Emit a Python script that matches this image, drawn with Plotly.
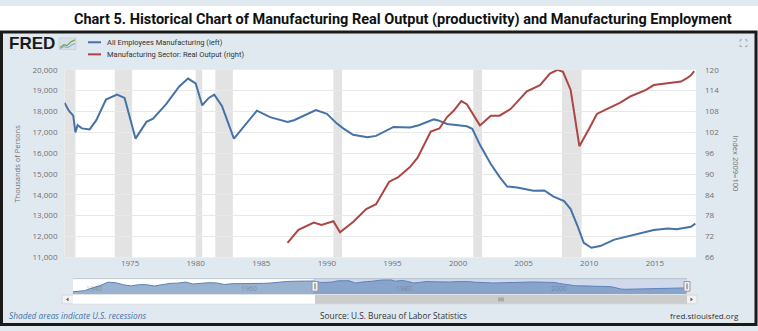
import plotly.graph_objects as go

W, H = 758, 331

# ---------------- data ----------------
emp_dates = ["1970-01", "1970-05", "1970-09", "1970-11", "1971-01", "1971-05", "1971-12", "1972-06",
             "1973-03", "1974-01", "1974-08", "1975-01", "1975-06", "1976-04", "1976-10", "1977-10",
             "1978-10", "1979-06", "1980-01", "1980-07", "1981-01", "1981-06", "1982-01", "1982-12",
             "1983-08", "1984-09", "1985-09", "1987-01", "1987-07", "1988-07", "1989-03", "1990-01",
             "1990-10", "1991-04", "1992-01", "1993-02", "1993-10", "1995-02", "1996-05", "1997-01",
             "1998-03", "1998-07", "1999-03", "2000-09", "2001-02", "2001-09", "2002-07", "2003-03",
             "2003-10", "2004-07", "2005-10", "2006-08", "2007-04", "2008-02", "2008-08", "2009-02",
             "2009-08", "2010-03", "2010-11", "2011-12", "2012-12", "2013-12", "2014-12", "2016-01",
             "2016-09", "2017-10", "2018-02"]
emp_vals = [18420, 18040, 17800, 17000, 17340, 17190, 17140, 17570,
            18575, 18810, 18650, 17650, 16700, 17500, 17650, 18350,
            19200, 19580, 19350, 18300, 18650, 18810, 18270, 16700,
            17190, 18040, 17730, 17500, 17580, 17890, 18070, 17890,
            17430, 17190, 16880, 16770, 16830, 17260, 17230, 17340,
            17620, 17570, 17400, 17290, 17170, 16400, 15480, 14860,
            14400, 14350, 14200, 14210, 13930, 13700, 13320, 12540,
            11700, 11460, 11540, 11850, 12000, 12160, 12310, 12390,
            12350, 12470, 12620]

out_dates = ["1987-01", "1987-11", "1989-01", "1989-08", "1990-07", "1991-01", "1992-01", "1993-01",
             "1993-10", "1994-10", "1995-06", "1996-05", "1996-12", "1997-12", "1998-08", "1999-03",
             "1999-09", "2000-04", "2000-09", "2001-09", "2002-07", "2003-03", "2004-01", "2005-04",
             "2006-04", "2007-01", "2007-08", "2008-01", "2008-08", "2009-04", "2010-01", "2010-08",
             "2011-05", "2012-05", "2013-03", "2014-05", "2014-12", "2016-01", "2017-01", "2017-06",
             "2017-10", "2018-01"]
out_vals = [70.2, 73.9, 76.0, 75.3, 76.4, 73.2, 76.2, 79.9,
            81.3, 87.8, 89.0, 92.0, 94.7, 102.2, 103.1, 106.4,
            108.2, 111.0, 110.1, 104.0, 106.8, 106.8, 108.7, 113.8,
            115.6, 118.9, 120.0, 119.4, 114.2, 98.0, 103.1, 107.3,
            108.7, 110.5, 112.4, 114.2, 115.6, 116.1, 116.6, 117.5,
            118.4, 119.6]

# navigator history (annual, before the main window)
nav_hist_dates = ["1939-01", "1940-07", "1941-07", "1942-07", "1943-07", "1944-07", "1945-07", "1946-07",
                  "1947-07", "1948-07", "1949-07", "1950-07", "1951-07", "1952-07", "1953-07", "1954-07",
                  "1955-07", "1956-07", "1957-07", "1958-07", "1959-07", "1960-07", "1961-07", "1962-07",
                  "1963-07", "1964-07", "1965-07", "1966-07", "1967-07", "1968-07", "1969-07"]
nav_hist_vals = [9300, 10300, 12600, 14600, 17400, 17000, 15200, 14300,
                 15300, 15300, 14200, 15200, 16400, 16600, 17500, 15900,
                 16600, 17000, 16800, 15500, 16100, 16200, 15700, 16300,
                 16400, 16700, 17500, 18000, 18200, 18400, 18650]

rec_start = ["1969-12-01", "1973-11-01", "1980-01-01", "1981-07-01", "1990-07-01", "2001-03-01", "2007-12-01"]
rec_end = ["1970-11-01", "1975-03-01", "1980-07-01", "1982-11-01", "1991-03-01", "2001-11-01", "2009-06-01"]

x_tick_years = [1975, 1980, 1985, 1990, 1995, 2000, 2005, 2010, 2015]
left_ticks = list(range(11000, 20001, 1000))
right_ticks = list(range(66, 121, 6))
nav_label_years = [1940, 1960, 1980, 2000]

series_names = ["All Employees Manufacturing (left)", "Manufacturing Sector: Real Output (right)"]
title_text = "Chart 5. Historical Chart of Manufacturing Real Output (productivity) and Manufacturing Employment"

BLUE = "#4572a7"
RED = "#aa4643"
FRAME_BG = "#e1e9f0"
TICK_C = "#707070"
BASE_FONT = "Open Sans, Liberation Sans, sans-serif"
NARROW = "Roboto, Liberation Sans, sans-serif"


def px(x):
    return x / W


def py(y):
    return 1 - y / H


# plot area in pixels
PL, PR, PT, PB = 64.5, 696, 66, 260
# navigator in pixels
NL, NR, NT, NB = 73, 687, 282, 298

fig = go.Figure()

fig.add_trace(go.Scatter(x=emp_dates, y=emp_vals, mode="lines", name=series_names[0],
                         line=dict(color=BLUE, width=2), xaxis="x", yaxis="y"))
fig.add_trace(go.Scatter(x=out_dates, y=out_vals, mode="lines", name=series_names[1],
                         line=dict(color=RED, width=2), xaxis="x", yaxis="y2"))

nav_x = nav_hist_dates + emp_dates
nav_y = nav_hist_vals + emp_vals
fig.add_trace(go.Scatter(x=nav_x, y=nav_y, mode="lines", fill="tozeroy",
                         fillcolor="rgba(69,114,167,0.55)", line=dict(color="#5a80b5", width=1),
                         xaxis="x3", yaxis="y3", showlegend=False, hoverinfo="skip"))

shapes = []
# white strip behind title
shapes.append(dict(type="rect", xref="paper", yref="paper", x0=0, x1=1, y0=py(26), y1=1,
                   fillcolor="white", line_width=0, layer="below"))
# recession bands
for s, e in zip(rec_start, rec_end):
    shapes.append(dict(type="rect", xref="x", yref="paper", x0=s, x1=e, y0=py(PB), y1=py(PT),
                       fillcolor="#e3e3e3", line_width=0, layer="between"))

# navigator top line
shapes.append(dict(type="line", xref="paper", yref="paper", x0=px(NL), x1=px(NR), y0=py(NT), y1=py(NT),
                   line=dict(color="#c0c8d0", width=1)))
# navigator selected mask
shapes.append(dict(type="rect", xref="x3", yref="paper", x0="1970-01-01", x1="2018-02-20",
                   y0=py(NB), y1=py(NT), fillcolor="rgba(102,133,194,0.3)", line_width=0, layer="above"))
# scrollbar
SB_T, SB_B = 299, 308
shapes.append(dict(type="rect", xref="paper", yref="paper", x0=px(62), x1=px(697), y0=py(SB_B), y1=py(SB_T),
                   fillcolor="#f2f2f2", line=dict(color="#d8d8d8", width=1)))
shapes.append(dict(type="rect", xref="paper", yref="paper", x0=px(NL), x1=px(315), y0=py(SB_B), y1=py(SB_T),
                   fillcolor="#ffffff", line_width=0))
shapes.append(dict(type="rect", xref="paper", yref="paper", x0=px(315), x1=px(NR), y0=py(SB_B), y1=py(SB_T),
                   fillcolor="#cccccc", line_width=0))
# scrollbar buttons arrows
shapes.append(dict(type="path", xref="paper", yref="paper",
                   path=f"M {px(66)} {py(303.5)} L {px(68.5)} {py(301.5)} L {px(68.5)} {py(305.5)} Z",
                   fillcolor="#555", line_width=0))
shapes.append(dict(type="path", xref="paper", yref="paper",
                   path=f"M {px(693)} {py(303.5)} L {px(690.5)} {py(301.5)} L {px(690.5)} {py(305.5)} Z",
                   fillcolor="#555", line_width=0))
# thumb grip
for gx in (499, 501, 503):
    shapes.append(dict(type="line", xref="paper", yref="paper", x0=px(gx), x1=px(gx),
                       y0=py(305.5), y1=py(301.5), line=dict(color="#888", width=1)))
# navigator handles
for hx in (315, NR):
    shapes.append(dict(type="rect", xref="paper", yref="paper", x0=px(hx - 3), x1=px(hx + 3),
                       y0=py(295), y1=py(285), fillcolor="#f2f2f2", line=dict(color="#999", width=1),
                       layer="above"))
    shapes.append(dict(type="line", xref="paper", yref="paper", x0=px(hx), x1=px(hx),
                       y0=py(293), y1=py(287), line=dict(color="#666", width=1), layer="above"))

# legend line samples
for yy, col in ((37.5, BLUE), (50, RED)):
    shapes.append(dict(type="line", xref="paper", yref="paper", x0=px(88), x1=px(101), y0=py(yy), y1=py(yy),
                       line=dict(color=col, width=2)))

# FRED small chart icon
shapes.append(dict(type="rect", xref="paper", yref="paper", x0=px(59), x1=px(76), y0=py(45), y1=py(33),
                   fillcolor="#d7e0e8", line=dict(color="#b8c4cf", width=0.5)))
shapes.append(dict(type="path", xref="paper", yref="paper",
                   path=f"M {px(60)} {py(43)} L {px(64)} {py(40)} L {px(67)} {py(41)} L {px(71)} {py(37)} L {px(75)} {py(35)}",
                   line=dict(color="#6aa84f", width=1.2)))
shapes.append(dict(type="path", xref="paper", yref="paper",
                   path=f"M {px(60)} {py(44)} L {px(64)} {py(42)} L {px(68)} {py(43)} L {px(72)} {py(40)} L {px(75)} {py(39)}",
                   line=dict(color="#7fa3c8", width=1)))

# fullscreen icon (corner marks)
ic = "#a0a8b0"
for (x0, y0, dx, dy) in ((740, 35, 1, 1), (747, 35, -1, 1), (740, 42, 1, -1), (747, 42, -1, -1)):
    shapes.append(dict(type="path", xref="paper", yref="paper",
                       path=f"M {px(x0)} {py(y0 + 2*dy)} L {px(x0)} {py(y0)} L {px(x0 + 2*dx)} {py(y0)}",
                       line=dict(color=ic, width=1)))

# frame border
shapes.append(dict(type="rect", xref="paper", yref="paper", x0=px(1.5), x1=px(756), y0=py(329.5), y1=py(27),
                   fillcolor="rgba(0,0,0,0)", line=dict(color="#1a1a1a", width=3), layer="above"))

annotations = []
annotations.append(dict(text=f"<b>{title_text}</b>", xref="paper", yref="paper", x=px(403), y=py(13.5),
                        xanchor="center", yanchor="middle", showarrow=False,
                        font=dict(family=NARROW, size=14.5, color="#111")))
annotations.append(dict(text="<b>FRED</b>", xref="paper", yref="paper", x=px(7), y=py(38.5),
                        xanchor="left", yanchor="middle", showarrow=False,
                        font=dict(family="Liberation Sans, Arial, sans-serif", size=17, color="#1a1a1a")))
for yy, name in ((37.5, series_names[0]), (50, series_names[1])):
    annotations.append(dict(text=name, xref="paper", yref="paper", x=px(105), y=py(yy),
                            xanchor="left", yanchor="middle", showarrow=False,
                            font=dict(family=NARROW, size=7.5, color="#333")))
annotations.append(dict(text="Thousands of Persons", xref="paper", yref="paper", x=px(17), y=py(163),
                        xanchor="center", yanchor="middle", showarrow=False, textangle=-90,
                        font=dict(family=BASE_FONT, size=7.5, color=TICK_C)))
annotations.append(dict(text="Index 2009=100", xref="paper", yref="paper", x=px(736), y=py(163),
                        xanchor="center", yanchor="middle", showarrow=False, textangle=90,
                        font=dict(family=BASE_FONT, size=7.5, color=TICK_C)))
for yr in nav_label_years:
    annotations.append(dict(text=str(yr), xref="x3", yref="paper", x=f"{yr}-01-01", y=py(292),
                            xanchor="left", yanchor="middle", showarrow=False, xshift=3,
                            font=dict(family=BASE_FONT, size=7, color="rgba(70,70,70,0.35)")))
annotations.append(dict(text="<i>Shaded areas indicate U.S. recessions</i>", xref="paper", yref="paper",
                        x=px(7), y=py(320), xanchor="left", yanchor="middle", showarrow=False,
                        font=dict(family=BASE_FONT, size=8.3, color="#4572a7")))
annotations.append(dict(text="Source: U.S. Bureau of Labor Statistics", xref="paper", yref="paper",
                        x=px(318), y=py(320), xanchor="left", yanchor="middle", showarrow=False,
                        font=dict(family=BASE_FONT, size=8.3, color="#333")))
annotations.append(dict(text="fred.stlouisfed.org", xref="paper", yref="paper",
                        x=px(741), y=py(320), xanchor="right", yanchor="middle", showarrow=False,
                        font=dict(family=BASE_FONT, size=8, color="#333")))

fig.update_layout(
    width=W, height=H, margin=dict(l=0, r=0, t=0, b=0),
    paper_bgcolor=FRAME_BG, plot_bgcolor="white", showlegend=False,
    shapes=shapes, annotations=annotations,
    xaxis=dict(domain=[px(PL), px(PR)], type="date", range=["1970-01-01", "2018-02-20"],
               tickvals=[f"{y}-01-01" for y in x_tick_years], ticktext=[str(y) for y in x_tick_years],
               showgrid=False, zeroline=False, showline=False, ticks="", anchor="y",
               tickfont=dict(family=BASE_FONT, size=8, color=TICK_C)),
    yaxis=dict(domain=[py(PB), py(PT)], range=[11000, 20000], tickvals=left_ticks, tickformat=",",
               gridcolor="#e8e8e8", gridwidth=1, zeroline=False, showline=False, ticks="",
               ticklabelstandoff=6,
               tickfont=dict(family=BASE_FONT, size=8, color=TICK_C)),
    yaxis2=dict(overlaying="y", side="right", range=[66, 120], tickvals=right_ticks,
                showgrid=False, zeroline=False, showline=False, ticks="", anchor="x",
                ticklabelstandoff=8,
                tickfont=dict(family=BASE_FONT, size=8, color=TICK_C)),
    xaxis3=dict(domain=[px(NL), px(NR)], type="date", range=["1939-01-01", "2018-02-20"],
                visible=False, anchor="y3"),
    yaxis3=dict(domain=[py(NB), py(NT)], range=[7400, 20400], visible=False, anchor="x3"),
)

fig.write_html("out.html")
